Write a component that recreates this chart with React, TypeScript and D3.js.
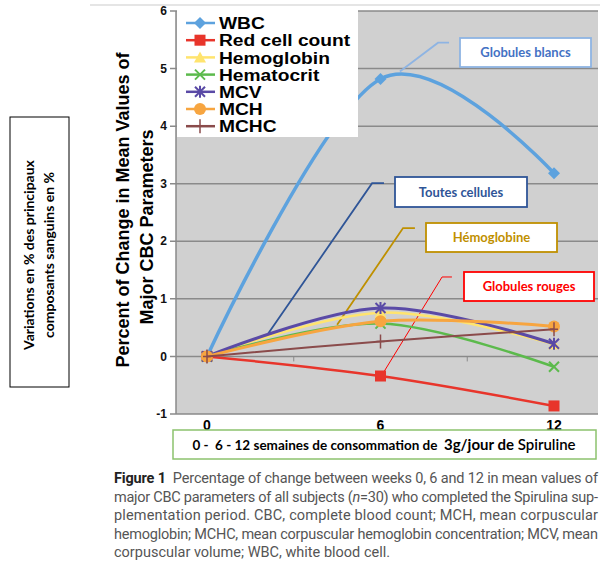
import React from "react";
import * as d3 from "d3";

const weeks = [0, 6, 12];
const weekLabels = ["0", "6", "12"];
const yTicks = [-1, 0, 1, 2, 3, 4, 5, 6];
const seriesNames = ["WBC", "Red cell count", "Hemoglobin", "Hematocrit", "MCV", "MCH", "MCHC"];
const wbc = [0, 4.82, 3.18];
const redCell = [0, -0.34, -0.86];
const hemoglobin = [0, 0.76, 0.21];
const hematocrit = [0, 0.57, -0.18];
const mcv = [0, 0.84, 0.22];
const mch = [0, 0.61, 0.52];
const mchc = [0, 0.26, 0.47];
const seriesValues = [wbc, redCell, hemoglobin, hematocrit, mcv, mch, mchc];
const seriesColors = ["#5DA2DE", "#E8352B", "#FFE46E", "#5CBA4C", "#5A4AA6", "#F7A540", "#8A4B4B"];
const seriesMarkers = ["diamond", "square", "triangle", "x", "star", "circle", "plus"];
const seriesWidths = [3.5, 2.5, 2.5, 2.5, 3, 3, 2];

const annLabels = ["Globules blancs", "Toutes cellules", "Hémoglobine", "Globules rouges"];
const annText = ["#4472C4", "#2F5597", "#BF9000", "#FF0000"];
const annBorder = ["#8EB4E3", "#2F5597", "#BF9000", "#FF0000"];
const annLine = ["#8EB4E3", "#2F5597", "#BF9000", "#FF0000"];
const annStart = [[8.37, 5.45], [6.12, 3.01], [7.19, 2.23], [8.47, 1.38]];
const annElbow = [[7.99, 5.45], [5.71, 3.01], [6.78, 2.23], [8.13, 1.38]];
const annEnd = [[6.67, 4.95], [2.04, 0.34], [4.5, 0.55], [6.09, -0.29]];

const captionLines = [
  "Percentage of change between weeks 0, 6 and 12 in mean values of",
  "major CBC parameters of all subjects (",
  "plementation period. CBC, complete blood count; MCH, mean corpuscular",
  "hemoglobin; MCHC, mean corpuscular hemoglobin concentration; MCV, mean",
  "corpuscular volume; WBC, white blood cell.",
];

function Marker({ type, x, y, color }: { type: string; x: number; y: number; color: string }) {
  const s = 5;
  switch (type) {
    case "diamond":
      return <path d={`M${x},${y - 6}L${x + 6},${y}L${x},${y + 6}L${x - 6},${y}Z`} fill={color} />;
    case "square":
      return <rect x={x - 5.5} y={y - 5.5} width={11} height={11} fill={color} />;
    case "triangle":
      return <path d={`M${x},${y - 6}L${x + 6},${y + 5}L${x - 6},${y + 5}Z`} fill={color} />;
    case "x":
      return (
        <path d={`M${x - s},${y - s}L${x + s},${y + s}M${x - s},${y + s}L${x + s},${y - s}`} stroke={color} strokeWidth={2} />
      );
    case "star":
      return (
        <path
          d={`M${x - s},${y - s}L${x + s},${y + s}M${x - s},${y + s}L${x + s},${y - s}M${x},${y - 6}L${x},${y + 6}`}
          stroke={color}
          strokeWidth={2}
        />
      );
    case "circle":
      return <circle cx={x} cy={y} r={6} fill={color} />;
    case "plus":
      return <path d={`M${x},${y - 7}L${x},${y + 7}M${x - 4},${y}L${x + 4},${y}`} stroke={color} strokeWidth={1.5} />;
  }
  return null;
}

export default function App() {
  const W = 605, H = 571;
  const plotL = 176, plotR = 598, plotT = 11, plotB = 414;
  const x = d3.scaleLinear().domain([0, 12]).range([207, 554]);
  const y = d3.scaleLinear().domain([-1, 6]).range([plotB, plotT]);
  const line = d3
    .line<number>()
    .x((_, i) => x(weeks[i]))
    .y((d) => y(d))
    .curve(d3.curveCardinal.tension(0));

  const legX = 177, legY = 10, legW = 181, legH = 127;
  const legRow = 17.2;

  const boxes = [
    { x: 460, y: 38, w: 131, h: 29 },
    { x: 395, y: 177, w: 132, h: 30 },
    { x: 426, y: 223, w: 131, h: 29 },
    { x: 464, y: 272, w: 130, h: 29 },
  ];

  const capFont = "Roboto, 'Liberation Sans', sans-serif";
  return (
    <svg width={W} height={H} style={{ position: "absolute", left: 0, top: 0, background: "#fff" }}>
      <line x1={90} x2={600} y1={5} y2={5} stroke="#dcdcdc" strokeWidth={1.5} />
      <rect x={plotL} y={plotT} width={plotR - plotL} height={plotB - plotT} fill="#D0D0D0" />
      {yTicks.map((t) => (
        <g key={t}>
          <line x1={plotL - 6} x2={plotR} y1={y(t)} y2={y(t)} stroke="#8a8a8a" strokeWidth={1.5} />
          <text
            x={167}
            y={y(t)}
            dy="0.35em"
            textAnchor="end"
            fontFamily="Arial, 'Liberation Sans', sans-serif"
            fontWeight="bold"
            fontSize={12}
            fill="#111"
          >
            {t}
          </text>
        </g>
      ))}
      <line x1={plotL} x2={plotL} y1={plotT} y2={plotB} stroke="#8a8a8a" strokeWidth={1.5} />
      {[3, 9].map((t) => (
        <line key={t} x1={x(t)} x2={x(t)} y1={y(0)} y2={y(0) + 5} stroke="#8a8a8a" strokeWidth={1} />
      ))}
      {weekLabels.map((l, i) => (
        <text
          key={l}
          x={x(weeks[i])}
          y={430}
          textAnchor="middle"
          fontFamily="Arial, 'Liberation Sans', sans-serif"
          fontWeight="bold"
          fontSize={14}
          fill="#000"
        >
          {l}
        </text>
      ))}
      {annLabels.map((l, i) => (
        <path
          key={l}
          d={`M${x(annStart[i][0])},${y(annStart[i][1])}L${x(annElbow[i][0])},${y(annElbow[i][1])}L${x(annEnd[i][0])},${y(annEnd[i][1])}`}
          fill="none"
          stroke={annLine[i]}
          strokeWidth={i === 3 ? 1 : 1.8}
        />
      ))}
      {seriesValues.map((vals, si) => (
        <g key={seriesNames[si]}>
          <path d={line(vals) || ""} fill="none" stroke={seriesColors[si]} strokeWidth={seriesWidths[si]} />
          {vals.map((v, i) => (
            <Marker key={i} type={seriesMarkers[si]} x={x(weeks[i])} y={y(v)} color={seriesColors[si]} />
          ))}
        </g>
      ))}
      <rect x={legX} y={legY} width={legW} height={legH} fill="#fff" />
      {seriesNames.map((n, i) => {
        const cy = 23 + i * legRow;
        return (
          <g key={n}>
            <line x1={186} x2={215} y1={cy} y2={cy} stroke={seriesColors[i]} strokeWidth={2.5} />
            <Marker type={seriesMarkers[i]} x={200} y={cy} color={seriesColors[i]} />
            <text
              transform={`translate(219,${cy}) scale(1.13,1)`}
              dy="0.36em"
              fontFamily="Arial, 'Liberation Sans', sans-serif"
              fontWeight="bold"
              fontSize={17}
              fill="#000"
            >
              {n}
            </text>
          </g>
        );
      })}
      {annLabels.map((l, i) => (
        <g key={l}>
          <rect x={boxes[i].x} y={boxes[i].y} width={boxes[i].w} height={boxes[i].h} fill="#fff" stroke={annBorder[i]} strokeWidth={1.8} />
          <text
            x={boxes[i].x + boxes[i].w / 2}
            y={boxes[i].y + boxes[i].h / 2}
            dy="0.36em"
            textAnchor="middle"
            fontFamily="Lato, 'Open Sans', sans-serif"
            fontWeight="bold"
            fontSize={13}
            fill={annText[i]}
          >
            {l}
          </text>
        </g>
      ))}
      <g fontFamily="Arial, 'Liberation Sans', sans-serif" fontWeight="bold" fontSize={18} fill="#000" textAnchor="middle">
        <text transform="translate(129,210) rotate(-90)">Percent of Change in Mean Values of</text>
        <text transform="translate(153,227) rotate(-90)">Major CBC Parameters</text>
      </g>
      <rect x={10} y={117} width={59} height={270} fill="#fff" stroke="#000" strokeWidth={1} />
      <g fontFamily="Lato, 'Open Sans', sans-serif" fontWeight="bold" fontSize={14} fill="#000" textAnchor="middle">
        <text transform="translate(34,255) rotate(-90)">Variations en % des principaux</text>
        <text transform="translate(54,255) rotate(-90)">composants sanguins en %</text>
      </g>
      <rect x={173} y={430} width={423} height={29} fill="#fff" stroke="#8CC26E" strokeWidth={1.5} />
      <text x={384} y={449.5} textAnchor="middle" fontFamily="Lato, 'Open Sans', sans-serif" fontWeight="bold" fill="#000" style={{ whiteSpace: "pre" }}>
        <tspan fontSize={13.5}>{"0 -  6 - 12 semaines de consommation de  "}</tspan>
        <tspan fontSize={15}>3g/jour de</tspan>
        <tspan fontSize={15} fontWeight={600}>{" Spiruline"}</tspan>
      </text>
      <g fontFamily={capFont} fontSize={14.5} fill="#555">
        <text x={114} y={483} textLength={484} lengthAdjust="spacing">
          <tspan fontWeight="bold" fill="#222">Figure 1</tspan>
          <tspan dx={7}>{captionLines[0]}</tspan>
        </text>
        <text x={114} y={501.5} textLength={484} lengthAdjust="spacing">
          {captionLines[1]}
          <tspan fontStyle="italic">n</tspan>
          {"=30) who completed the Spirulina sup-"}
        </text>
        <text x={114} y={520} textLength={484} lengthAdjust="spacing">
          {captionLines[2]}
        </text>
        <text x={114} y={538.5} textLength={484} lengthAdjust="spacing">
          {captionLines[3]}
        </text>
        <text x={114} y={557}>{captionLines[4]}</text>
      </g>
    </svg>
  );
}
